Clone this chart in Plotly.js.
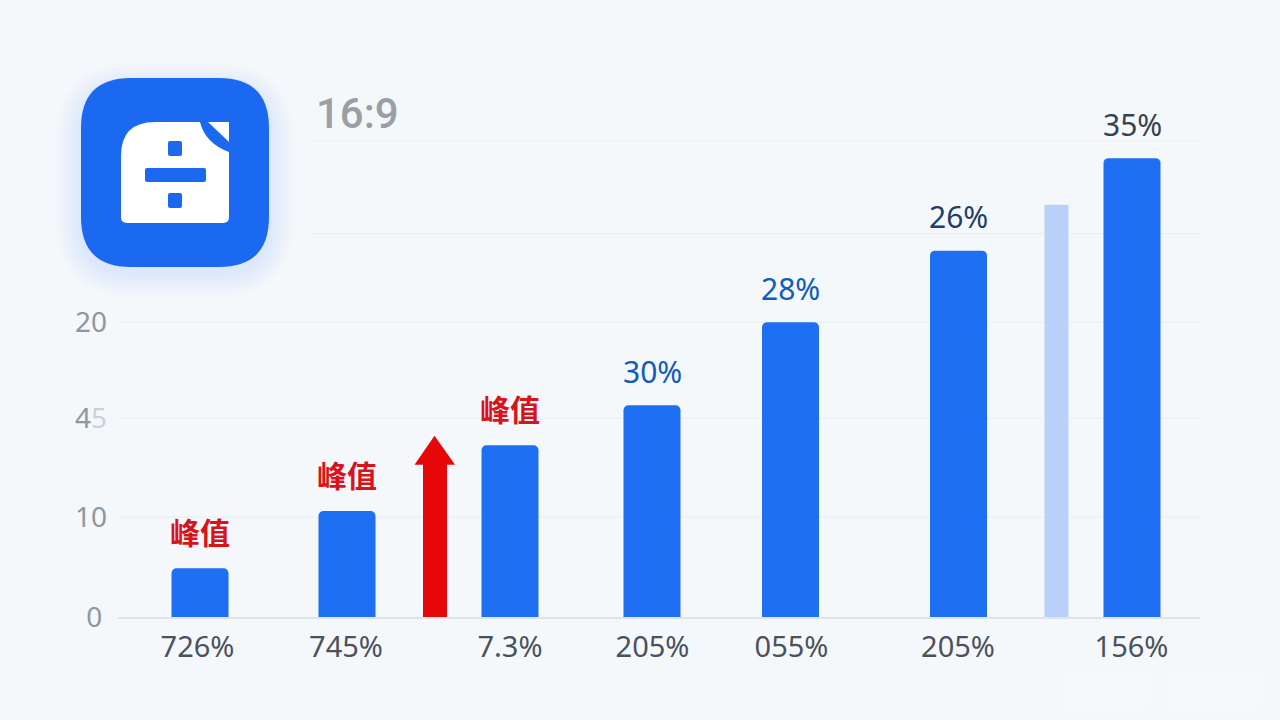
<!DOCTYPE html>
<html>
<head>
<meta charset="utf-8">
<script src="https://cdn.plot.ly/plotly-3.0.1.min.js"></script>
<style>
  html, body { margin: 0; padding: 0; background: #f5f8fb; }
  #chart { width: 1280px; height: 720px; }
</style>
</head>
<body>
<div id="chart"></div>
<script>
const barX = [200, 347, 510, 652, 790.5, 958.5, 1132];
const barValues = [5.1, 11.1, 18.0, 22.2, 30.9, 38.4, 48.1];
const barLabels = ["峰值", "峰值", "峰值", "30%", "28%", "26%", "35%"];
const barLabelColors = ["#d5141c", "#d5141c", "#d5141c", "#0f5cbc", "#0f5cbc", "#1f3f66", "#36434f"];

const ghostX = [1056.5];
const ghostValues = [43.2];

const arrowX = [423, 423, 414.5, 434.5, 455, 447, 447, 423];
const arrowY = [0, 15.95, 15.95, 19.0, 15.95, 15.95, 0, 0];

const xTickVals = [197.5, 346, 510, 652.5, 791.5, 958, 1131.5];
const xTickText = ["726%", "745%", "7.3%", "205%", "055%", "205%", "156%"];

const gridVals = [0, 10.48, 20.85, 30.9, 40.2, 49.9];
const gridStart = [118, 118, 118, 118, 312, 312];
const yTickText = ["0\u2009", "10", "4<span style=\"color:#ccd2d9\">5</span>", "20", "", ""];

const FONT = "'Noto Sans', 'Noto Sans CJK SC', sans-serif";
const BLUE = "#1f6ff2";

// shapes for the icon are placed on the page, so convert page pixels to paper units
const PLOT_L = 118, PLOT_R = 1200, PLOT_T = 140, PLOT_B = 617;
const px = (x) => ((x - PLOT_L) / (PLOT_R - PLOT_L)).toFixed(5);
const py = (y) => ((PLOT_B - y) / (PLOT_B - PLOT_T)).toFixed(5);
const P = (x, y) => `${px(x)},${py(y)}`;

const roundRect = (x0, y0, x1, y1, r) =>
  `M${P(x0 + r, y0)} L${P(x1 - r, y0)} Q${P(x1, y0)} ${P(x1, y0 + r)} ` +
  `L${P(x1, y1 - r)} Q${P(x1, y1)} ${P(x1 - r, y1)} ` +
  `L${P(x0 + r, y1)} Q${P(x0, y1)} ${P(x0, y1 - r)} ` +
  `L${P(x0, y0 + r)} Q${P(x0, y0)} ${P(x0 + r, y0)} Z`;

const pathShape = (path, color) => ({
  type: "path", xref: "paper", yref: "paper", layer: "above",
  path, fillcolor: color, line: { width: 0 }
});

const iconShapes = [];
// soft shadow under the icon, stacked thin layers so it fades out
[24, 21, 18, 15, 12, 9, 6, 3].forEach((grow) => {
  iconShapes.push(pathShape(
    roundRect(81 - grow, 88 - grow, 269 + grow, 272 + grow, 50 + grow),
    "rgba(40,110,240,0.014)"
  ));
});
iconShapes.push(pathShape(roundRect(81, 78, 269, 267, 50), "#1b69f0"));
// page body with the cut corner
iconShapes.push(pathShape(
  `M${P(155, 122)} L${P(200, 122)} Q${P(205, 143)} ${P(229, 152)} L${P(229, 217)} ` +
  `Q${P(229, 223)} ${P(223, 223)} L${P(127, 223)} Q${P(121, 223)} ${P(121, 217)} ` +
  `L${P(121, 156)} Q${P(121, 122)} ${P(155, 122)} Z`,
  "#ffffff"
));
iconShapes.push(pathShape(`M${P(208, 122)} L${P(229, 122)} L${P(229, 142)} Z`, "#ffffff"));
iconShapes.push(pathShape(roundRect(168, 141, 182, 156, 2), "#1b69f0"));
iconShapes.push(pathShape(roundRect(145, 168, 206, 182, 2), "#1b69f0"));
iconShapes.push(pathShape(roundRect(168, 193, 182, 208, 2), "#1b69f0"));

// faint smudges bottom right of the picture
const smudgeShapes = [
  pathShape(roundRect(1062, 672, 1152, 708, 6), "rgba(255,255,255,0.1)"),
  pathShape(roundRect(1165, 672, 1262, 708, 6), "rgba(255,255,255,0.1)")
];

const gridShapes = gridVals.slice(1).map((v, i) => ({
  type: "line", xref: "x", yref: "y", layer: "below",
  x0: gridStart[i + 1], x1: PLOT_R, y0: v, y1: v,
  line: { color: "#e9eef3", width: 1 }
}));

const data = [
  {
    type: "bar",
    x: ghostX,
    y: ghostValues,
    width: 24,
    marker: { color: "#b9d1f8", line: { width: 0 } },
    hoverinfo: "skip"
  },
  {
    type: "bar",
    x: barX,
    y: barValues,
    width: 57,
    marker: { color: BLUE, cornerradius: 5, line: { width: 0 } },
    hoverinfo: "skip"
  },
  {
    type: "scatter",
    mode: "lines",
    x: arrowX,
    y: arrowY,
    fill: "toself",
    fillcolor: "#e60808",
    line: { width: 0, color: "#e60808" },
    hoverinfo: "skip"
  }
];

const annotations = barLabels.map((label, i) => ({
  x: barX[i],
  y: barValues[i],
  text: label,
  showarrow: false,
  xanchor: "center",
  yanchor: "middle",
  yshift: i < 3 ? 37 : 34,
  font: i < 3
    ? { family: "'Noto Sans CJK SC', sans-serif", size: 30, color: barLabelColors[i], weight: 700 }
    : { family: FONT, size: 30, color: barLabelColors[i] }
}));

const layout = {
  width: 1280,
  height: 720,
  margin: { l: PLOT_L, r: 1280 - PLOT_R, t: PLOT_T, b: 720 - PLOT_B, pad: 0 },
  paper_bgcolor: "#f5f8fb",
  plot_bgcolor: "rgba(0,0,0,0)",
  showlegend: false,
  barmode: "overlay",
  title: {
    text: "16:9",
    xref: "paper",
    x: Number(px(316)),
    xanchor: "left",
    yref: "container",
    y: 1 - 113 / 720,
    yanchor: "middle",
    font: { family: "Roboto, sans-serif", size: 42, color: "#9a9fa6", weight: 500 }
  },
  xaxis: {
    range: [PLOT_L, PLOT_R],
    tickmode: "array",
    tickvals: xTickVals,
    ticktext: xTickText,
    ticks: "",
    ticklabelstandoff: 3,
    tickfont: { family: FONT, size: 29, color: "#4a525c" },
    showgrid: false,
    zeroline: false,
    showline: true,
    linecolor: "#dfe4ea",
    linewidth: 2
  },
  yaxis: {
    range: [0, 50],
    tickmode: "array",
    tickvals: gridVals,
    ticktext: yTickText,
    ticks: "",
    ticklabelstandoff: 10,
    tickfont: { family: FONT, size: 28, color: "#8f979f" },
    showgrid: false,
    zeroline: false,
    showline: false
  },
  shapes: gridShapes.concat(smudgeShapes, iconShapes),
  annotations
};

Plotly.newPlot("chart", data, layout, { displayModeBar: false, staticPlot: true });
</script>
</body>
</html>
